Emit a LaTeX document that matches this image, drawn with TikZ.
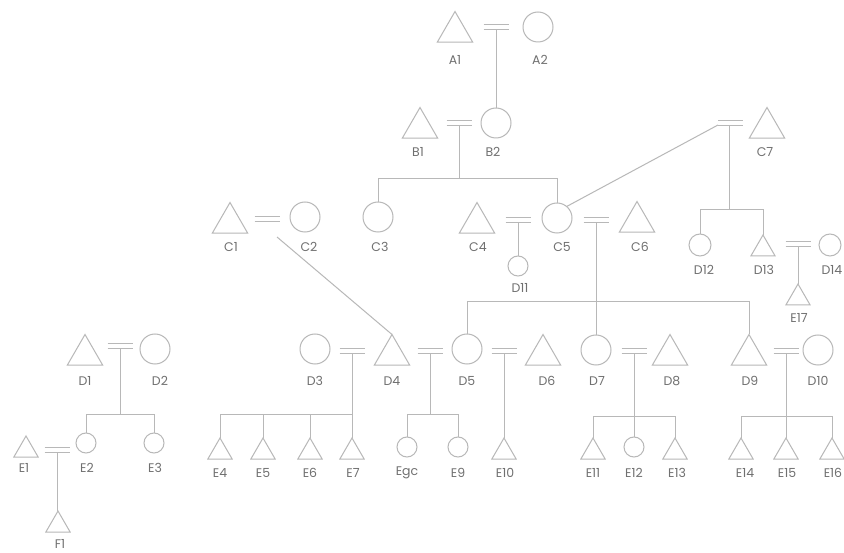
\documentclass[tikz,border=0pt]{standalone}
\usepackage{fontspec}
\setmainfont{Poppins}
\usetikzlibrary{shapes.geometric,calc}
\definecolor{lc}{HTML}{B8B8B8}
\definecolor{tc}{HTML}{707070}
\tikzset{
  tri/.style={draw=lc, line width=1pt, regular polygon, regular polygon sides=3, minimum size=41pt, inner sep=0pt, outer sep=0pt},
  stri/.style={tri, minimum size=28pt},
  circ/.style={draw=lc, line width=1pt, circle, minimum size=30pt, inner sep=0pt, outer sep=0pt},
  scirc/.style={circ, minimum size=20pt},
  mcirc/.style={circ, minimum size=22pt},
  lbl/.style={text=tc, font=\fontsize{12.5}{13}\selectfont, inner sep=0pt},
  ln/.style={draw=lc, line width=1pt},
  marr/.style={draw=lc, line width=1pt},
}
% marriage sign: lower line at the coordinate, upper line 5pt above it
\newcommand\marline[1]{%
  \draw[marr] ([xshift=-12.5pt]#1) -- ([xshift=12.5pt]#1);
  \draw[marr] ([xshift=-12.5pt,yshift=5pt]#1) -- ([xshift=12.5pt,yshift=5pt]#1);}
\begin{document}
\begin{tikzpicture}[x=1pt,y=-1pt]
\useasboundingbox[fill=white] (0,0) rectangle (844,553);
% ---- people ----
\node[tri]  (A1) at (455,32) {};
\node[circ] (A2) at (538,27) {};
\node[tri]  (B1) at (420,128) {};
\node[circ] (B2) at (496,123) {};
\node[tri]  (C1) at (230,223) {};
\node[circ] (C2) at (305,217) {};
\node[circ] (C3) at (378,217) {};
\node[tri]  (C4) at (477,223) {};
\node[circ] (C5) at (557,218) {};
\node[tri]  (C6) at (637,222) {};
\node[tri]  (C7) at (767,128) {};
\node[scirc] (D11) at (518,266) {};
\node[mcirc] (D12) at (700,245) {};
\node[stri]  (D13) at (763,249) {};
\node[mcirc] (D14) at (830,245) {};
\node[stri]  (E17) at (798,298) {};
\node[tri]  (D1) at (85,355) {};
\node[circ] (D2) at (155,349) {};
\node[circ] (D3) at (315,349) {};
\node[tri]  (D4) at (392,355) {};
\node[circ] (D5) at (467,349) {};
\node[tri]  (D6) at (543,355) {};
\node[circ] (D7) at (596,350) {};
\node[tri]  (D8) at (670,355) {};
\node[tri]  (D9) at (749,355) {};
\node[circ] (D10) at (818,350) {};
\node[stri]  (E1) at (26,450) {};
\node[scirc] (E2) at (86,443) {};
\node[scirc] (E3) at (154,443) {};
\node[stri]  (E4) at (220,452) {};
\node[stri]  (E5) at (263,452) {};
\node[stri]  (E6) at (310,452) {};
\node[stri]  (E7) at (352,452) {};
\node[scirc] (Egc) at (407,447) {};
\node[scirc] (E9) at (458,447) {};
\node[stri]  (E10) at (504,452) {};
\node[stri]  (E11) at (593,452) {};
\node[scirc] (E12) at (634,447) {};
\node[stri]  (E13) at (675,452) {};
\node[stri]  (E14) at (741,452) {};
\node[stri]  (E15) at (786,452) {};
\node[stri]  (E16) at (832,452) {};
\node[stri]  (F1) at (58,525) {};
% ---- labels ----
\node[lbl] (lA1) at (455,60) {A1};
\node[lbl] (lA2) at (540,60) {A2};
\node[lbl] (lB1) at (418,152) {B1};
\node[lbl] (lB2) at (493,152) {B2};
\node[lbl] (lC1) at (231,247) {C1};
\node[lbl] (lC2) at (309,247) {C2};
\node[lbl] (lC3) at (380,247) {C3};
\node[lbl] (lC4) at (478,247) {C4};
\node[lbl] (lC5) at (562,247) {C5};
\node[lbl] (lC6) at (640,247) {C6};
\node[lbl] (lC7) at (765,152) {C7};
\node[lbl] (lD11) at (520,288) {D11};
\node[lbl] (lD12) at (704,270) {D12};
\node[lbl] (lD13) at (764,270) {D13};
\node[lbl] (lD14) at (832,270) {D14};
\node[lbl] (lE17) at (799,318) {E17};
\node[lbl] (lD1) at (85,381) {D1};
\node[lbl] (lD2) at (160,381) {D2};
\node[lbl] (lD3) at (315,381) {D3};
\node[lbl] (lD4) at (392,381) {D4};
\node[lbl] (lD5) at (467,381) {D5};
\node[lbl] (lD6) at (547,381) {D6};
\node[lbl] (lD7) at (597,381) {D7};
\node[lbl] (lD8) at (672,381) {D8};
\node[lbl] (lD9) at (750,381) {D9};
\node[lbl] (lD10) at (818,381) {D10};
\node[lbl] (lE1) at (24,468) {E1};
\node[lbl] (lE2) at (87,468) {E2};
\node[lbl] (lE3) at (155,468) {E3};
\node[lbl] (lE4) at (220,473) {E4};
\node[lbl] (lE5) at (263,473) {E5};
\node[lbl] (lE6) at (310,473) {E6};
\node[lbl] (lE7) at (353,473) {E7};
\node[lbl] (lEgc) at (407,473) {Egc};
\node[lbl] (lE9) at (458,473) {E9};
\node[lbl] (lE10) at (505,473) {E10};
\node[lbl] (lE11) at (593,473) {E11};
\node[lbl] (lE12) at (634,473) {E12};
\node[lbl] (lE13) at (677,473) {E13};
\node[lbl] (lE14) at (745,473) {E14};
\node[lbl] (lE15) at (787,473) {E15};
\node[lbl] (lE16) at (833,473) {E16};
\node[lbl] (lF1) at (60,544) {F1};
% ---- marriage points (lower line of each sign) ----
\coordinate (mA) at (496,30);
\coordinate (mB) at (459,126);
\coordinate (mC12) at (267,222);
\coordinate (mC45) at (518,222.5);
\coordinate (mC56) at (596,222.5);
\coordinate (mC7) at (730.5,125.5);
\coordinate (mC7w) at (718,125);
\coordinate (mD13) at (798,247);
\coordinate (mD12) at (120,348.5);
\coordinate (mD34) at (352,353.5);
\coordinate (mD45) at (430,353.5);
\coordinate (mD56) at (504,353.5);
\coordinate (mD78) at (634,353.5);
\coordinate (mD910) at (786,353.5);
\coordinate (mE12) at (57,452);
\coordinate (cC2) at (277,237);
% sibling bar levels
\coordinate (sB) at (0,179);
\coordinate (sC7) at (0,210);
\coordinate (sC56) at (0,302);
\coordinate (sD12) at (0,415);
\coordinate (sD34) at (0,415);
\coordinate (sD45) at (0,415);
\coordinate (sD78) at (0,417);
\coordinate (sD910) at (0,417);
% ---- descent lines ----
\draw[ln] (mA) -- (mA |- B2.north);
\draw[ln] (mB) -- (mB |- sB);
\draw[ln] (C3.north) -- (C3.north |- sB) -- (C5.north |- sB) -- (C5.north);
\draw[ln] (mC45) -- (D11.north);
\draw[ln] (mC56) -- (D7.north);
\draw[ln] (D5.north) -- (D5.north |- sC56) -- (D9.north |- sC56) -- (D9.north);
\draw[ln] (C5.50) -- (mC7w);
\draw[ln] (mC7) ++(-1.5,0) coordinate (mC7v) -- (mC7v |- sC7);
\draw[ln] (D12.north) -- (D12.north |- sC7) -- (D13.north |- sC7) -- (D13.north);
\draw[ln] (mD13) -- (E17.north);
\draw[ln] (cC2) -- (D4.north);
\draw[ln] (mD12) -- (mD12 |- sD12);
\draw[ln] (E2.north) -- (E2.north |- sD12) -- (E3.north |- sD12) -- (E3.north);
\draw[ln] (mE12) -- (mE12 |- F1.north) -- (F1.north);
\draw[ln] (mD34) -- (E7.north);
\draw[ln] (E4.north) -- (E4.north |- sD34) -- (E7.north |- sD34);
\draw[ln] (E5.north) -- (E5.north |- sD34);
\draw[ln] (E6.north) -- (E6.north |- sD34);
\draw[ln] (mD45) -- (mD45 |- sD45);
\draw[ln] (Egc.north) -- (Egc.north |- sD45) -- (E9.north |- sD45) -- (E9.north);
\draw[ln] (mD56) -- (E10.north);
\draw[ln] (mD78) -- (E12.north);
\draw[ln] (E11.north) -- (E11.north |- sD78) -- (E13.north |- sD78) -- (E13.north);
\draw[ln] (mD910) -- (E15.north);
\draw[ln] (E14.north) -- (E14.north |- sD910) -- (E16.north |- sD910) -- (E16.north);
% ---- marriages ----
\marline{mA}
\marline{mB}
\marline{mC12}
\marline{mC45}
\marline{mC56}
\marline{mC7}
\marline{mD13}
\marline{mD12}
\marline{mD34}
\marline{mD45}
\marline{mD56}
\marline{mD78}
\marline{mD910}
\marline{mE12}
\end{tikzpicture}
\end{document}
